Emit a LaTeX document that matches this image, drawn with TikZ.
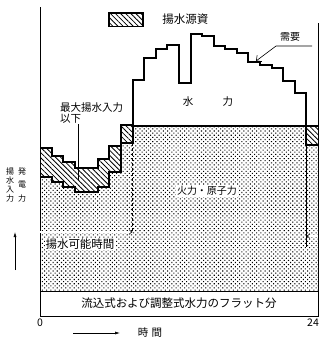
\documentclass[tikz,border=0pt]{standalone}
\usepackage{fontspec}
\setmainfont{Noto Sans CJK JP}
\usepackage{tikz}
\usetikzlibrary{arrows.meta,patterns.meta,positioning}

\begin{document}
\begin{tikzpicture}[
        x=1pt, y=-1pt,
        font=\fontsize{10.5}{11}\selectfont,
        % Define styles for regions, lines and texts
        pumping/.style={
            pattern={Lines[angle=-45,distance=3.6pt,line width=0.8pt]}
        },
        thermal/.style={
            pattern={Dots[angle=45,distance=3pt,radius=0.75pt]}
        },
        demand/.style={
            line width=2pt,
            line join=miter
        },
        baseload/.style={
            line width=1.2pt
        },
        leader/.style={
            line width=0.6pt
        },
        spanarrow/.style={
            double,
            double distance=1.4pt,
            line width=0.5pt,
            -Implies
        },
        arrow/.style={
            -{Latex[length=5pt,width=3pt]},
            line width=0.6pt
        },
        tag/.style={
            inner sep=1pt
        }
    ]

    \useasboundingbox (0,0) rectangle (320,341);

    % Hourly steps, 0 to 24
    \begin{scope}[xshift=40pt, x=11.58pt]
        % Fill thermal and nuclear base
        \fill[thermal] (0,291)
            \foreach \h/\l in {0/177,1/182,2/187,3/192,4/192,5/187,6/172,7/143} { -- (\h,\l) -- (\h+1,\l) }
            -- (8,126) -- (23,126) -- (23,145) -- (24,145) -- (24,291) -- cycle;

        % Fill pumping blocks
        \foreach \h/\u/\l in {0/148/177,1/156/182,2/162/187,3/168/192,4/168/192,5/159/187,6/146/172,7/125/143,23/126/145}
            \fill[pumping] (\h,\u) rectangle (\h+1,\l);

        % Draw demand curve
        \draw[demand] (0,148)
            \foreach \h/\u in {0/148,1/156,2/162,3/168,4/168,5/159,6/146,7/125,8/80,9/58,10/49,11/45,12/83,13/34,14/36,15/46,16/49,17/53,18/62,19/65,20/68,21/81,22/93,23/145} { -- (\h,\u) -- (\h+1,\u) };

        % Draw lower edge of pumping and base level
        \draw[demand] (0,177)
            \foreach \h/\l in {0/177,1/182,2/187,3/192,4/192,5/187,6/172,7/143} { -- (\h,\l) -- (\h+1,\l) }
            -- (8,126);
        \draw[baseload] (8,126) -- (24,126);

        % Mark ends of pumping time
        \coordinate (pumptop) at (8,143);
        \coordinate (pumpend) at (8,232);
        \coordinate (droptop) at (23,145);
        \coordinate (dropend) at (23,236);
        \coordinate (dropfoot) at (23,247);
    \end{scope}

    % Place flat run-of-river box
    \node[draw, fill=white, line width=0.6pt, minimum width=278pt, minimum height=25pt,
          font=\fontsize{11.5}{12}\selectfont] (flat) at (179,303.5) {流込式および調整式水力のフラット分};

    % Draw axes and frame
    \draw[leader] (40,7) -- (40,316) -- (318,316) -- (318,23);

    % Place legend
    \node[draw, line width=1.5pt, pumping, minimum width=34pt, minimum height=13.5pt] (key) at (126,19.5) {};
    \node[right=15pt of key, font=\fontsize{11.5}{12}\selectfont] (keytext) {揚水源資};

    % Place region labels
    \node[tag] (water) at (208,102) {水\hspace{29.5pt}力};
    \node[tag, fill=white, font=\fontsize{10}{11}\selectfont] (thermaltext) at (207,191) {火力・原子力};
    \node[tag, align=left, anchor=north west] (maxlabel) at (59,101) {最大揚水入力\\以下};
    \node[tag, font=\fontsize{10}{11}\selectfont] (demandtext) at (290,37) {需要};

    % Draw leader lines
    \coordinate (maxtip) at (78,180);
    \draw[leader] (maxlabel.south -| maxtip) -- (maxtip);
    \coordinate (demandend) at (312,46);
    \coordinate (demandknee) at (276,46);
    \coordinate (demandtip) at (256,61);
    \draw[leader, -{Straight Barb[length=4pt]}] (demandend) -- (demandknee) -- (demandtip);

    % Draw pumping time arrows
    \coordinate (pumpstart) at (40,232);
    \draw[spanarrow] (pumpstart) -- (pumpend);
    \draw[leader, densely dashed] (pumptop) -- (pumpend);
    \node[tag, fill=white, font=\fontsize{11.5}{12}\selectfont] (pumptext) at (80,244) {揚水可能時間};
    \coordinate (dropstart) at (318,236);
    \draw[spanarrow] (dropstart) -- (dropend);
    \draw[leader] (droptop) -- (dropfoot);

    % Place axis labels
    \node[tag, align=center, font=\fontsize{8}{9}\selectfont] (pumpaxis) at (10,184.5) {揚\\水\\入\\力};
    \node[tag, align=center, font=\fontsize{8}{13.5}\selectfont] (genaxis) at (22,184.5) {発\\電\\力};
    \coordinate (upfrom) at (15,270);
    \coordinate (upto) at (15,232);
    \draw[arrow] (upfrom) -- (upto);
    \node[tag] (zero) at (40,323) {0};
    \node[tag] (day) at (313,323) {24};
    \node[tag] (timetext) at (150,333) {時\hspace{3.5pt}間};
    \coordinate (timefrom) at (73,333);
    \coordinate (timeto) at (120,333);
    \draw[arrow] (timefrom) -- (timeto);

\end{tikzpicture}
\end{document}
